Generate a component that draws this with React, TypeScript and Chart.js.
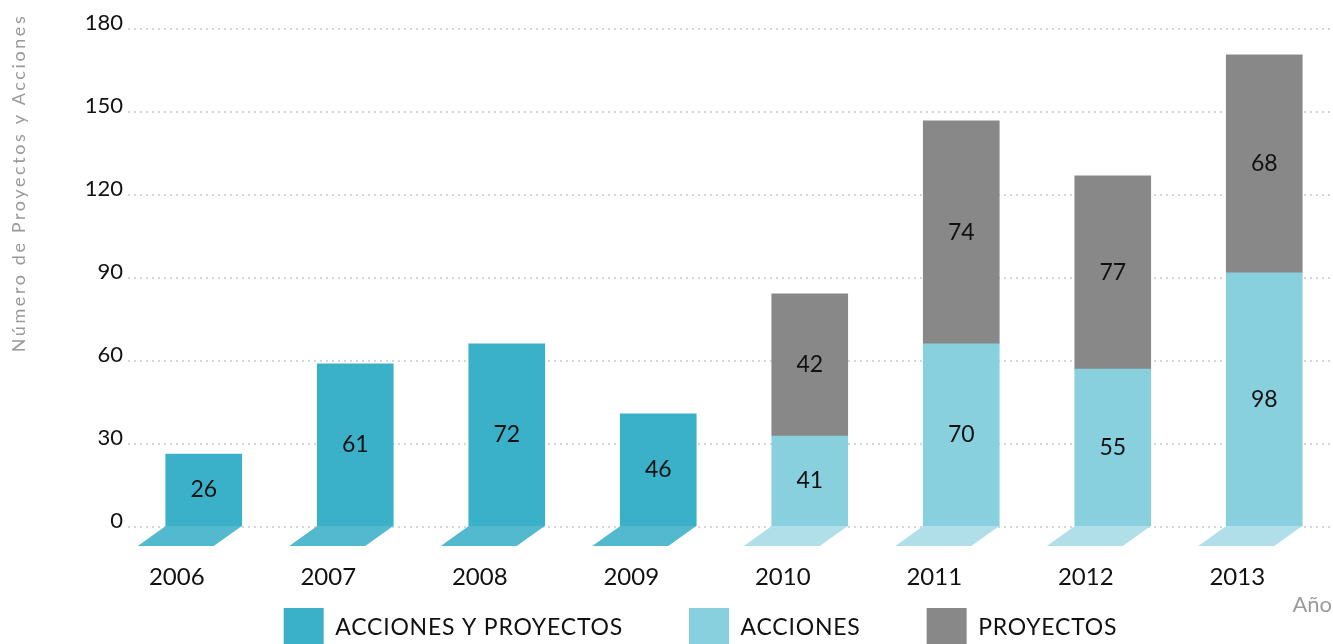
import React, { useEffect, useRef } from 'react';
import { Chart, registerables } from 'chart.js';

Chart.register(...registerables);

// ---- data ----
const categories = ['2006', '2007', '2008', '2009', '2010', '2011', '2012', '2013'];
const seriesNames = ['ACCIONES Y PROYECTOS', 'ACCIONES', 'PROYECTOS'];
// bar heights as drawn in the picture
const accionesYProyectos = [26.4, 59, 66.2, 40.9, null, null, null, null];
const acciones = [null, null, null, null, 32.9, 66.2, 57.1, 91.9];
const proyectos = [null, null, null, null, 51.4, 80.6, 69.8, 78.8];
// numbers printed on the bars
const accionesYProyectosLabels = ['26', '61', '72', '46', '', '', '', ''];
const accionesLabels = ['', '', '', '', '41', '70', '55', '98'];
const proyectosLabels = ['', '', '', '', '42', '74', '77', '68'];
const yTicks = [0, 30, 60, 90, 120, 150, 180];
const yAxisTitle = 'Número de Proyectos y Acciones';
const xAxisTitle = 'Año';

// ---- styles ----
const barColors = ['#3bb0c9', '#88d0de', '#888888'];
const floorColors = ['#52b9cf', '#b0dfe9', '#a0a0a0'];
const FONT = 'Lato, "Open Sans", sans-serif';
const W = 1340;
const H = 644;

const labelSets = [accionesYProyectosLabels, accionesLabels, proyectosLabels];

const floorPlugin = {
  id: 'floor3d',
  afterDatasetsDraw(chart: any) {
    const ctx = chart.ctx;
    const n = chart.data.labels.length;
    for (let i = 0; i < n; i++) {
      for (let d = 0; d < chart.data.datasets.length; d++) {
        const v = chart.data.datasets[d].data[i];
        if (v == null) continue;
        const el = chart.getDatasetMeta(d).data[i];
        const { x, width, base } = el.getProps(['x', 'width', 'base'], true);
        const l = x - width / 2;
        const r = x + width / 2;
        ctx.save();
        ctx.fillStyle = floorColors[d];
        ctx.beginPath();
        ctx.moveTo(l, base);
        ctx.lineTo(r, base);
        ctx.lineTo(r - 28, base + 20);
        ctx.lineTo(l - 28, base + 20);
        ctx.closePath();
        ctx.fill();
        ctx.restore();
        break;
      }
    }
  },
};

const valueLabelPlugin = {
  id: 'valueLabels',
  afterDatasetsDraw(chart: any) {
    const ctx = chart.ctx;
    ctx.save();
    ctx.font = `23px ${FONT}`;
    ctx.fillStyle = '#111111';
    ctx.textAlign = 'center';
    ctx.textBaseline = 'middle';
    chart.data.datasets.forEach((ds: any, d: number) => {
      const meta = chart.getDatasetMeta(d);
      meta.data.forEach((el: any, i: number) => {
        const txt = labelSets[d][i];
        if (!txt || ds.data[i] == null) return;
        const { x, y, base } = el.getProps(['x', 'y', 'base'], true);
        ctx.fillText(txt, x, (y + base) / 2);
      });
    });
    ctx.restore();
  },
};

const axisTitlesPlugin = {
  id: 'axisTitles',
  afterDraw(chart: any) {
    const ctx = chart.ctx;
    // y-axis title (rotated)
    ctx.save();
    ctx.translate(19, 183);
    ctx.rotate(-Math.PI / 2);
    ctx.font = `18px ${FONT}`;
    (ctx as any).letterSpacing = '2.6px';
    ctx.fillStyle = '#9a9a9a';
    ctx.textAlign = 'center';
    ctx.textBaseline = 'middle';
    ctx.fillText(yAxisTitle, 0, 0);
    ctx.restore();
    // x-axis title
    ctx.save();
    ctx.font = `22px ${FONT}`;
    ctx.fillStyle = '#9a9a9a';
    ctx.textAlign = 'right';
    ctx.textBaseline = 'middle';
    ctx.fillText(xAxisTitle, 1332, 605);
    ctx.restore();
  },
};

const legendPlugin = {
  id: 'boxLegend',
  afterDraw(chart: any) {
    const ctx = chart.ctx;
    const box = 40;
    const fontSize = 23;
    const gap = 66;
    const centerX = 700.5;
    const top = 608;
    ctx.save();
    ctx.font = `${fontSize}px ${FONT}`;
    (ctx as any).letterSpacing = '0.8px';
    const items = chart.data.datasets.map((ds: any) => ({
      text: ds.label,
      color: ds.backgroundColor,
      w: box + fontSize / 2 + ctx.measureText(ds.label).width,
    }));
    const total = items.reduce((s: number, it: any) => s + it.w, 0) + gap * (items.length - 1);
    let x = centerX - total / 2;
    ctx.textAlign = 'left';
    ctx.textBaseline = 'middle';
    for (const it of items) {
      ctx.fillStyle = it.color;
      ctx.fillRect(x, top, box, box);
      ctx.fillStyle = '#111111';
      ctx.fillText(it.text, x + box + fontSize / 2, top + box / 2);
      x += it.w + gap;
    }
    ctx.restore();
  },
};

export default function App() {
  const ref = useRef<HTMLCanvasElement | null>(null);

  useEffect(() => {
    if (!ref.current) return;
    const chart = new Chart(ref.current, {
      type: 'bar',
      data: {
        labels: categories,
        datasets: [
          { label: seriesNames[0], data: accionesYProyectos, backgroundColor: barColors[0], borderWidth: 0 },
          { label: seriesNames[1], data: acciones, backgroundColor: barColors[1], borderWidth: 0 },
          { label: seriesNames[2], data: proyectos, backgroundColor: barColors[2], borderWidth: 0 },
        ] as any,
      },
      options: {
        responsive: false,
        animation: false,
        devicePixelRatio: 1,
        events: [],
        layout: { padding: { top: 29, left: 0, right: 0, bottom: 0 } },
        datasets: { bar: { barThickness: 76 } } as any,
        plugins: {
          legend: { display: false },
          tooltip: { enabled: false },
        },
        scales: {
          x: {
            stacked: true,
            grid: { display: false },
            border: { display: false },
            ticks: {
              color: '#111111',
              font: { family: FONT, size: 24 },
              padding: 28,
              labelOffset: -27,
              maxRotation: 0,
              autoSkip: false,
            },
            title: { display: false, text: xAxisTitle },
            afterFit: (s: any) => {
              s.height = 117;
            },
          },
          y: {
            stacked: true,
            min: yTicks[0],
            max: yTicks[yTicks.length - 1],
            ticks: {
              stepSize: yTicks[1] - yTicks[0],
              color: '#111111',
              font: { family: FONT, size: 22 },
              padding: 5,
              labelOffset: -6,
            },
            grid: { color: '#d6d6d6', lineWidth: 2, drawTicks: false },
            border: { display: false, dash: [2, 4] },
            afterFit: (s: any) => {
              s.width = 128;
            },
          },
        } as any,
      },
      plugins: [floorPlugin, valueLabelPlugin, axisTitlesPlugin, legendPlugin],
    });
    return () => chart.destroy();
  }, []);

  return (
    <div style={{ position: 'fixed', left: 0, top: 0, width: W, height: H, background: '#ffffff' }}>
      <canvas ref={ref} width={W} height={H} style={{ width: W, height: H, display: 'block' }} />
    </div>
  );
}
